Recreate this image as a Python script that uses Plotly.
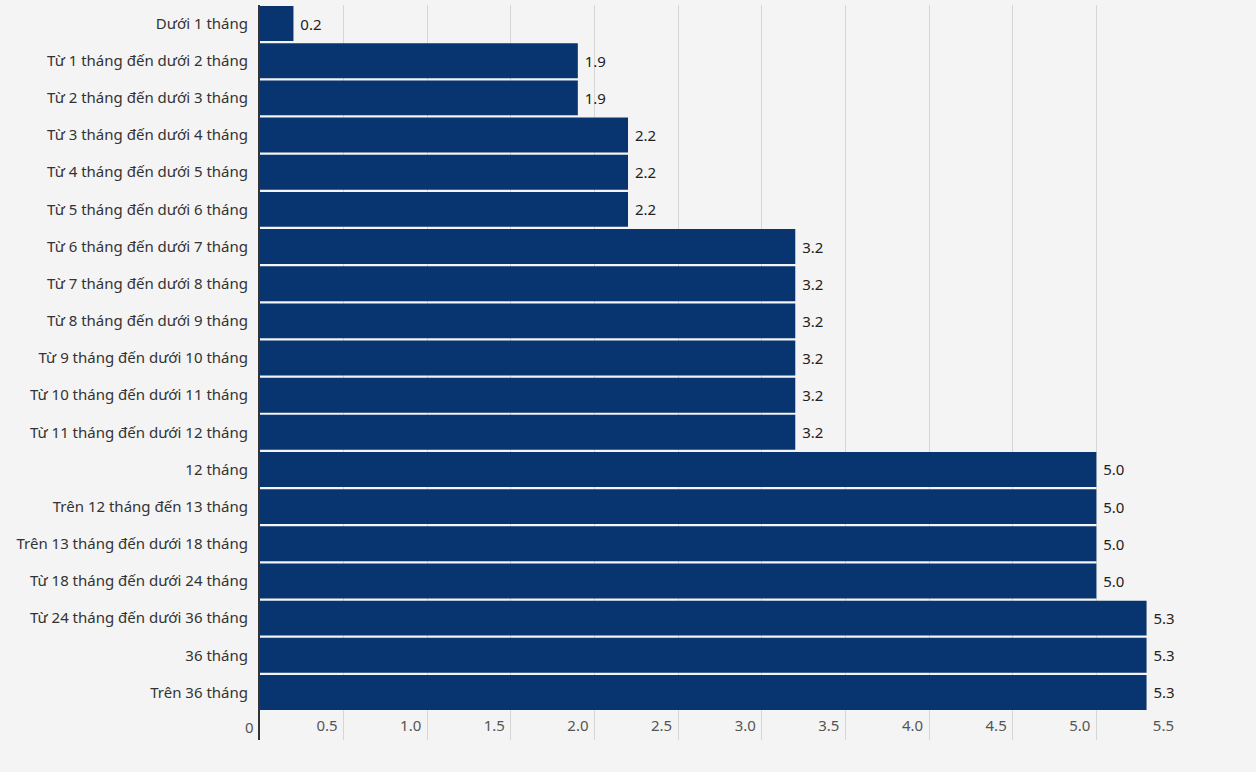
import plotly.graph_objects as go

categories = [
    "Dưới 1 tháng",
    "Từ 1 tháng đến dưới 2 tháng",
    "Từ 2 tháng đến dưới 3 tháng",
    "Từ 3 tháng đến dưới 4 tháng",
    "Từ 4 tháng đến dưới 5 tháng",
    "Từ 5 tháng đến dưới 6 tháng",
    "Từ 6 tháng đến dưới 7 tháng",
    "Từ 7 tháng đến dưới 8 tháng",
    "Từ 8 tháng đến dưới 9 tháng",
    "Từ 9 tháng đến dưới 10 tháng",
    "Từ 10 tháng đến dưới 11 tháng",
    "Từ 11 tháng đến dưới 12 tháng",
    "12 tháng",
    "Trên 12 tháng đến 13 tháng",
    "Trên 13 tháng đến dưới 18 tháng",
    "Từ 18 tháng đến dưới 24 tháng",
    "Từ 24 tháng đến dưới 36 tháng",
    "36 tháng",
    "Trên 36 tháng",
]
values = [0.2, 1.9, 1.9, 2.2, 2.2, 2.2, 3.2, 3.2, 3.2, 3.2, 3.2, 3.2,
          5.0, 5.0, 5.0, 5.0, 5.3, 5.3, 5.3]
tick_vals = [0, 0.5, 1.0, 1.5, 2.0, 2.5, 3.0, 3.5, 4.0, 4.5, 5.0, 5.5]
tick_text = ["0", "0.5", "1.0", "1.5", "2.0", "2.5", "3.0", "3.5", "4.0", "4.5", "5.0", "5.5"]

FONT = "Noto Sans"
BG = "#f4f4f4"

fig = go.Figure(go.Bar(
    x=values,
    y=categories,
    orientation="h",
    marker=dict(color="#08346f", line=dict(width=0)),
    text=["\u00a0" + f"{v:.1f}" for v in values],
    textposition="outside",
    textfont=dict(family=FONT, size=15, color="#222222"),
    cliponaxis=False,
    hoverinfo="x+y",
))

fig.update_layout(
    width=1256,
    height=772,
    margin=dict(l=260, r=76, t=5, b=32),
    paper_bgcolor=BG,
    plot_bgcolor=BG,
    bargap=0.06,
    showlegend=False,
    font=dict(family=FONT, size=15, color="#333333"),
)

fig.update_xaxes(
    range=[0, 5.5],
    tickvals=tick_vals[1:],
    ticktext=tick_text[1:],
    ticklabelposition="inside left",
    ticklabelshift=-6,
    tickfont=dict(family=FONT, size=15, color="#555555"),
    showgrid=True,
    gridcolor="#d6d6d6",
    gridwidth=1,
    zeroline=False,
    showline=False,
    ticks="",
)

# the "0" tick label, left of the axis line
fig.add_annotation(
    x=tick_vals[0], xref="x", y=0, yref="paper",
    text=tick_text[0], showarrow=False,
    xanchor="right", yanchor="bottom", xshift=-4, yshift=1,
    font=dict(family=FONT, size=15, color="#555555"),
)

fig.update_yaxes(
    type="category",
    categoryorder="array",
    categoryarray=categories,
    range=[19.28, -0.5],
    showline=True,
    linecolor="#333333",
    linewidth=2,
    ticks="",
    ticklabelstandoff=7,
    tickfont=dict(family=FONT, size=15, color="#333333"),
    showgrid=False,
)

fig.write_html("out.html", config={"displayModeBar": False},
               post_script="document.body.style.margin='0';")
